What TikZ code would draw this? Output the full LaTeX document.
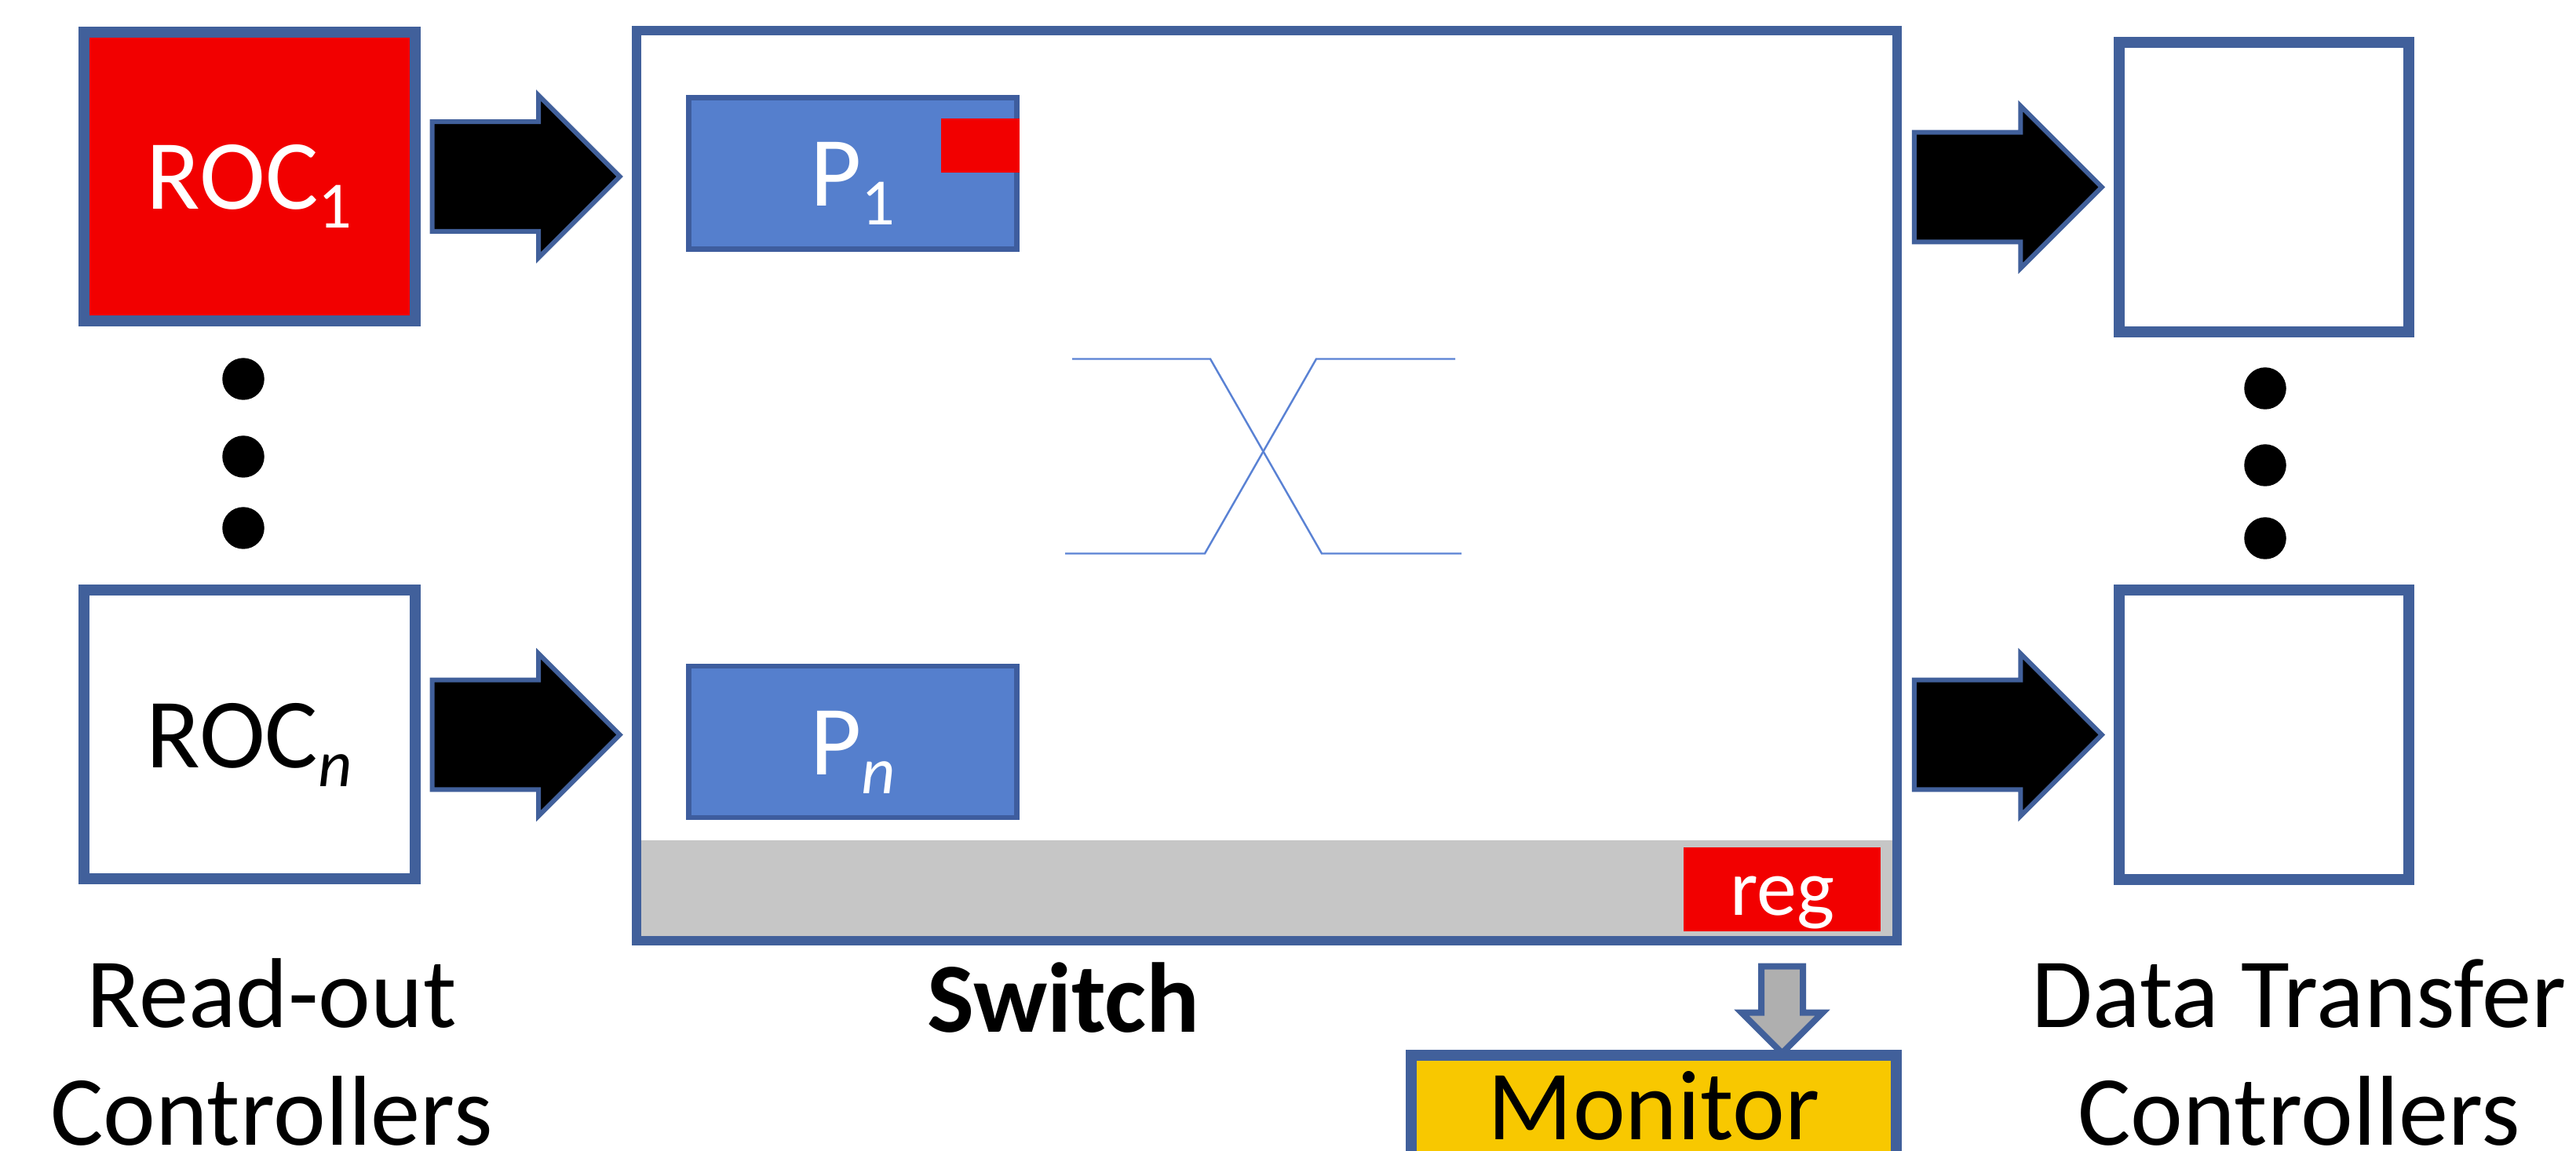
\documentclass[tikz,border=0pt]{standalone}
\usepackage{fontspec}
\setmainfont{Carlito}
\usepackage{tikz}
\usetikzlibrary{arrows.meta, positioning, shapes.arrows, calc}
\usepackage{xcolor}

\definecolor{boxblue}{RGB}{65,96,155}
\definecolor{rocred}{RGB}{242,0,0}
\definecolor{portblue}{RGB}{85,127,205}
\definecolor{portedge}{RGB}{62,93,158}
\definecolor{busgray}{RGB}{198,198,198}
\definecolor{argray}{RGB}{175,175,175}
\definecolor{mongold}{RGB}{248,200,0}
\definecolor{xbarblue}{RGB}{90,130,212}

\newcommand{\bigfont}{\fontsize{36pt}{42.4pt}\selectfont}
\newcommand{\regfont}{\fontsize{29pt}{34pt}\selectfont}
\newcommand{\lowsub}[1]{\raisebox{-0.24cm}{\fontsize{24pt}{24pt}\selectfont #1}}

\begin{document}
\begin{tikzpicture}[
        ctrl/.style={rectangle, draw=boxblue, line width=0.14cm, minimum width=4.22cm, minimum height=3.68cm, inner sep=0, text height=0.95cm, text depth=0.11cm, font=\bigfont},
        dtcbox/.style={ctrl, minimum width=3.69cm, minimum height=3.69cm},
        port/.style={rectangle, draw=portedge, fill=portblue, line width=0.066cm, minimum width=4.18cm, minimum height=1.93cm, inner sep=0, text=white, text height=0.95cm, text depth=0.11cm, font=\bigfont},
        fatarr/.style={single arrow, draw=boxblue, fill=black, line width=0.06cm, minimum height=2.39cm, minimum width=2.07cm, inner sep=0.49cm},
        monarr/.style={single arrow, shape border rotate=270, draw=boxblue, fill=argray, line width=0.08cm, minimum height=1.105cm, minimum width=1.0cm, inner sep=0.225cm},
        vdot/.style={circle, fill=black, minimum size=0.535cm, inner sep=0},
        xbar/.style={draw=xbarblue, line width=0.7pt},
        caption/.style={align=center, font=\bigfont, inner sep=0}
    ]
        \useasboundingbox (0,0) rectangle (32.82,14.66);
        \clip (0,0) rectangle (32.82,14.66);

        % Read-out controllers
        \node[ctrl, fill=rocred, text=white] (roc1) at (3.176, 12.41) {ROC\lowsub{1}};
        \node[ctrl] (rocn) at (3.176, 5.295) {ROC\lowsub{\textit{n}}};
        \foreach \y [count=\i] in {9.83, 8.84, 7.93}
            \node[vdot] (ldot\i) at (3.10, \y) {};

        % Switch
        \node[rectangle, draw=boxblue, line width=0.125cm, minimum width=16.06cm, minimum height=11.60cm] (switch) at (16.14, 8.47) {};
        \fill[busgray] ($(switch.south west)+(0.125,0.125)$) rectangle ($(switch.south east)+(-0.125,1.339)$);
        \node[fill=rocred, text=white, font=\regfont, minimum width=2.51cm, minimum height=1.07cm, inner sep=0, text height=0.75cm, text depth=0.10cm] (reg) at (22.705, 3.325) {reg};

        % Ports
        \node[port] (p1) at (10.865, 12.45) {P\lowsub{1}};
        \node[port] (pn) at (10.865, 5.205) {P\lowsub{\textit{n}}};
        \node[fill=rocred, minimum width=0.995cm, minimum height=0.685cm, inner sep=0] (p1flag) at (12.49, 12.8025) {};

        % Crossbar
        \draw[xbar] (13.66,10.085) -- (15.42,10.085) -- (16.84,7.605) -- (18.62,7.605);
        \draw[xbar] (13.57,7.605) -- (15.35,7.605) -- (16.77,10.085) -- (18.54,10.085);

        % Data transfer controllers
        \node[dtcbox] (dtc1) at (28.845, 12.275) {};
        \node[dtcbox] (dtcn) at (28.845, 5.295) {};
        \foreach \y [count=\i] in {9.71, 8.73, 7.80}
            \node[vdot] (rdot\i) at (28.86, \y) {};

        % Block arrows
        \node[fatarr, right=0.12cm of roc1] (a1) {};
        \node[fatarr, right=0.12cm of rocn] (an) {};
        \node[fatarr, left=0.11cm of dtc1] (b1) {};
        \node[fatarr, left=0.11cm of dtcn] (bn) {};

        % Monitor
        \node[monarr] (regarr) at ($(reg.south)+(0,-0.86)$) {};
        \node[rectangle, draw=boxblue, fill=mongold, line width=0.14cm, minimum width=6.18cm, minimum height=1.30cm, inner sep=0, text height=0.84cm, text depth=0cm, font=\bigfont] (monitor) at (21.07, 0.56) {Monitor};

        % Captions
        \node[caption, anchor=base] (roclbl) at (3.46, 0.07) {Read-out\\Controllers};
        \node[caption, anchor=base, font=\bigfont\bfseries] (swlbl) at (13.55, 1.51) {Switch};
        \node[caption, anchor=base] (dtclbl) at (29.29, 0.07) {Data Transfer\\Controllers};
    \end{tikzpicture}
\end{document}
